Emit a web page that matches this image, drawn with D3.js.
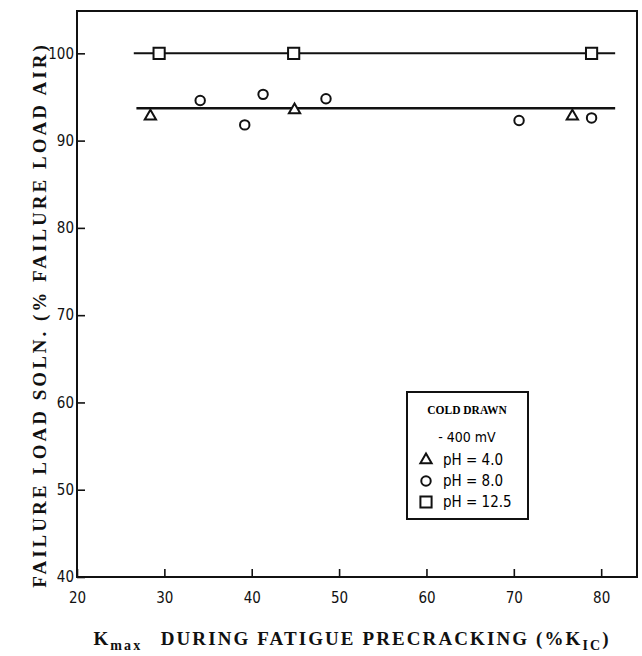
<!DOCTYPE html>
<html>
<head>
<meta charset="utf-8">
<script src="https://cdn.jsdelivr.net/npm/d3@7"></script>
<style>
  body { margin: 0; background: #fff; }
  .tick text { font-family: "DejaVu Sans Condensed", "DejaVu Sans", sans-serif; font-size: 15px; fill: #111; }
  .title { font-family: "Liberation Serif", "Times New Roman", serif; font-weight: bold; font-size: 19px; fill: #111; }
</style>
</head>
<body>
<div id="chart"></div>
<script>
// values
var ph4X = [28.4, 44.9, 76.7];
var ph4Y = [92.8, 93.5, 92.8];
var ph8X = [34.1, 39.2, 41.3, 48.5, 70.6, 78.9];
var ph8Y = [94.6, 91.8, 95.3, 94.8, 92.3, 92.6];
var ph125X = [29.4, 44.8, 78.9];
var ph125Y = [100, 100, 100];
// the two horizontal mean lines
var meanLowX = [26.8, 81.6];
var meanLowY = 93.7;
var meanHighX = [26.5, 81.6];
var meanHighY = 100;
var xTicks = [20, 30, 40, 50, 60, 70, 80];
var yTicks = [40, 50, 60, 70, 80, 90, 100];
var legendLabels = ["pH = 4.0", "pH = 8.0", "pH = 12.5"];

var svgWidth = 642;
var svgHeight = 656;
var margin = { top: 11, right: 5, bottom: 79, left: 77 };
var width = svgWidth - margin.left - margin.right;
var height = svgHeight - margin.top - margin.bottom;

var svg = d3.select("#chart").append("svg")
  .attr("width", svgWidth)
  .attr("height", svgHeight);

var chartGroup = svg.append("g")
  .attr("transform", `translate(${margin.left}, ${margin.top})`);

var x = d3.scaleLinear().domain([20, 84.1]).range([0, width]);
var y = d3.scaleLinear().domain([40, 104.85]).range([height, 0]);

// frame
chartGroup.append("rect")
  .attr("width", width).attr("height", height)
  .attr("fill", "none").attr("stroke", "#111").attr("stroke-width", 2);

// axes with inward ticks
var xAxis = chartGroup.append("g")
  .attr("transform", `translate(0, ${height})`)
  .call(d3.axisBottom(x).tickValues(xTicks).tickSizeInner(-8).tickSizeOuter(0).tickPadding(15));
var yAxis = chartGroup.append("g")
  .call(d3.axisLeft(y).tickValues(yTicks).tickSizeInner(-8).tickSizeOuter(0).tickPadding(3));
[xAxis, yAxis].forEach(function(a) {
  a.select(".domain").remove();
  a.selectAll(".tick line").attr("stroke", "#111").attr("stroke-width", 1.6);
});
yAxis.selectAll(".tick text").attr("dy", "0.32em");

// mean lines
chartGroup.append("line")
  .attr("x1", x(meanHighX[0])).attr("x2", x(meanHighX[1]))
  .attr("y1", y(meanHighY)).attr("y2", y(meanHighY))
  .attr("stroke", "#111").attr("stroke-width", 2);
chartGroup.append("line")
  .attr("x1", x(meanLowX[0])).attr("x2", x(meanLowX[1]))
  .attr("y1", y(meanLowY)).attr("y2", y(meanLowY))
  .attr("stroke", "#111").attr("stroke-width", 2.6);

var tri = d3.symbol().type(d3.symbolTriangle).size(55);
var sq = d3.symbol().type(d3.symbolSquare).size(125);
var circ = d3.symbol().type(d3.symbolCircle).size(70);

function drawPoints(xs, ys, sym) {
  chartGroup.append("g").selectAll("path")
    .data(xs)
    .enter()
    .append("path")
    .attr("d", sym)
    .attr("transform", (d, i) => `translate(${x(d)}, ${y(ys[i])})`)
    .attr("fill", "#fff")
    .attr("stroke", "#111")
    .attr("stroke-width", 2);
}
drawPoints(ph4X, ph4Y, tri);
drawPoints(ph8X, ph8Y, circ);
drawPoints(ph125X, ph125Y, sq);

// legend box
var legend = svg.append("g").attr("transform", "translate(407, 392)");
legend.append("rect")
  .attr("width", 121).attr("height", 127)
  .attr("fill", "#fff").attr("stroke", "#111").attr("stroke-width", 2);
legend.append("text")
  .attr("x", 60).attr("y", 22).attr("text-anchor", "middle")
  .attr("font-family", "Liberation Serif, serif").attr("font-weight", "bold").attr("font-size", 11.5)
  .text("COLD DRAWN");
legend.append("text")
  .attr("x", 60).attr("y", 50).attr("text-anchor", "middle")
  .attr("font-family", "DejaVu Sans Condensed, sans-serif").attr("font-size", 14)
  .text("- 400 mV");
var syms = [tri, circ, sq];
legendLabels.forEach(function(lbl, i) {
  var ly = 68 + i * 21;
  legend.append("path").attr("d", syms[i])
    .attr("transform", `translate(19, ${ly})`)
    .attr("fill", "#fff").attr("stroke", "#111").attr("stroke-width", 2);
  legend.append("text")
    .attr("x", 36).attr("y", ly).attr("dy", "0.35em")
    .attr("font-family", "DejaVu Sans Condensed, sans-serif").attr("font-size", 15)
    .text(lbl);
});

// axis titles
var xt = svg.append("text").attr("class", "title")
  .attr("x", 352).attr("y", 645).attr("text-anchor", "middle")
  .attr("letter-spacing", 2.1);
xt.append("tspan").text("K");
xt.append("tspan").attr("font-size", 14).attr("dy", 5).text("max");
xt.append("tspan").attr("dy", -5).text("\u2002 DURING FATIGUE PRECRACKING (%K");
xt.append("tspan").attr("font-size", 14).attr("dy", 5).text("IC");
xt.append("tspan").attr("dy", -5).text(")");

svg.append("text").attr("class", "title")
  .attr("transform", "translate(46, 315) rotate(-90)")
  .attr("text-anchor", "middle")
  .attr("letter-spacing", 3)
  .text("FAILURE LOAD SOLN. (% FAILURE LOAD AIR)");
</script>
</body>
</html>
